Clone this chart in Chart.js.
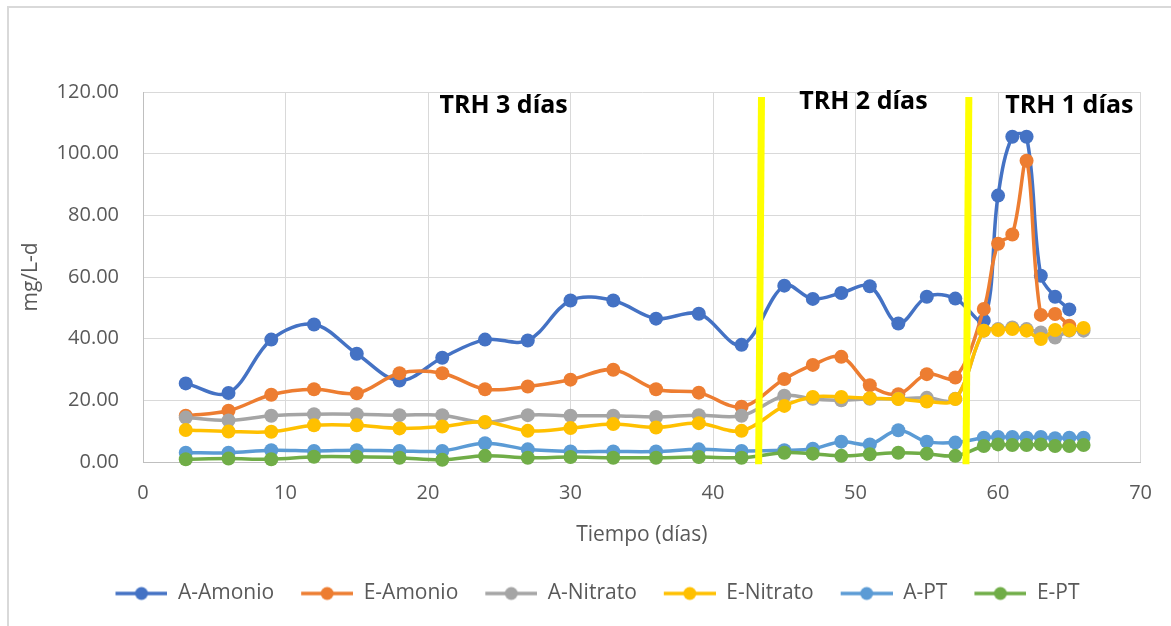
<!DOCTYPE html>
<html>
<head>
<meta charset="utf-8">
<script src="https://cdn.jsdelivr.net/npm/chart.js@4.4.0/dist/chart.umd.min.js"></script>
<style>
  html, body { margin: 0; padding: 0; background: #fff; overflow: hidden; }
  #frame { position: absolute; left: 7px; top: 6px; width: 1300px; height: 800px;
           border-left: 2px solid #d9d9d9; border-top: 2px solid #d9d9d9; }
  #wrap { position: absolute; left: 0; top: 0; width: 1171px; height: 626px; }
</style>
</head>
<body>
<div id="frame"></div>
<div id="wrap"><canvas id="chart"></canvas></div>
<script>
// sampling days
const days = [3, 6, 9, 12, 15, 18, 21, 24, 27, 30, 33, 36, 39, 42,
              45, 47, 49, 51, 53, 55, 57,
              59, 60, 61, 62, 63, 64, 65, 66];

const aAmonio = [25.5, 22.4, 39.7, 44.6, 35.1, 26.4, 33.8, 39.7, 39.4, 52.4, 52.4, 46.5, 48.1, 38.0,
                 57.2, 52.9, 54.8, 57.0, 44.9, 53.6, 53.0,
                 45.8, 86.4, 105.5, 105.5, 60.4, 53.6, 49.5];
const eAmonio = [15.0, 16.6, 21.8, 23.6, 22.3, 28.8, 28.8, 23.6, 24.5, 26.7, 29.9, 23.6, 22.5, 17.9,
                 26.9, 31.5, 34.1, 24.9, 22.0, 28.5, 27.4,
                 49.6, 70.8, 73.8, 97.7, 47.7, 48.0, 44.2];
const aNitrato = [14.4, 13.5, 15.0, 15.5, 15.5, 15.2, 15.2, 12.8, 15.2, 15.0, 15.0, 14.6, 15.2, 15.0,
                  21.5, 20.5, 20.0, 20.5, 20.5, 20.8, 20.5,
                  42.6, 43.1, 43.6, 43.1, 42.0, 40.4, 42.6, 42.6];
const eNitrato = [10.4, 9.9, 9.8, 11.9, 11.9, 10.9, 11.5, 13.0, 10.1, 11.0, 12.3, 11.2, 12.6, 10.1,
                  18.2, 21.1, 21.1, 20.7, 20.4, 19.6, 20.4,
                  42.6, 42.8, 43.1, 42.6, 39.9, 42.8, 42.8, 43.5];
const aPT = [3.0, 3.0, 3.8, 3.6, 3.8, 3.6, 3.6, 6.1, 4.1, 3.4, 3.4, 3.4, 4.1, 3.6,
             3.8, 4.3, 6.6, 5.7, 10.3, 6.6, 6.3,
             7.9, 8.1, 8.1, 7.9, 8.1, 7.7, 7.9, 7.9];
const ePT = [0.9, 1.1, 0.9, 1.7, 1.7, 1.4, 0.7, 2.0, 1.4, 1.6, 1.4, 1.4, 1.6, 1.4,
             3.0, 2.7, 2.0, 2.5, 3.0, 2.7, 2.0,
             5.2, 5.7, 5.5, 5.5, 5.7, 5.2, 5.2, 5.5];

const seriesNames = ['A-Amonio', 'E-Amonio', 'A-Nitrato', 'E-Nitrato', 'A-PT', 'E-PT'];
const seriesValues = [aAmonio, eAmonio, aNitrato, eNitrato, aPT, ePT];
const colors = ['#4472C4', '#ED7D31', '#A5A5A5', '#FFC000', '#5B9BD5', '#70AD47'];

// HRT change days and phase labels
const phaseBreaks = [43.3, 57.85];
const phaseLabels = ['TRH 3 días', 'TRH 2 días', 'TRH 1 días'];
const phaseLabelX = [20.8, 46.05, 60.5];
const phaseLabelY = [115.4, 116.7, 115.4];

const gray = '#595959';
const font = '"Open Sans", sans-serif';

// line + marker swatch, with some blank space on its left as item spacing
function legendIcon(color) {
    const c = document.createElement('canvas');
    c.width = 68; c.height = 16;
    const g = c.getContext('2d');
    g.strokeStyle = color; g.lineWidth = 3.5;
    g.beginPath(); g.moveTo(16, 8); g.lineTo(68, 8); g.stroke();
    g.fillStyle = color;
    g.beginPath(); g.arc(42, 8, 6.5, 0, Math.PI * 2); g.fill();
    return c;
}

const phasePlugin = {
    id: 'phases',
    afterLayout(chart) {
        // legend row sits a bit right of center in the original
        chart.legend.left += 18;
        chart.legend.right += 18;
    },
    afterDatasetsDraw(chart) {
        const { ctx, scales: { x, y } } = chart;
        ctx.save();
        ctx.strokeStyle = '#FFFF00';
        ctx.lineWidth = 7;
        phaseBreaks.forEach(b => {
            ctx.beginPath();
            ctx.moveTo(x.getPixelForValue(b + 0.1), y.getPixelForValue(118.4));
            ctx.lineTo(x.getPixelForValue(b - 0.1), y.getPixelForValue(-0.7));
            ctx.stroke();
        });
        ctx.fillStyle = '#000';
        ctx.font = 'bold 25px ' + font;
        ctx.textBaseline = 'middle';
        phaseLabels.forEach((t, i) => {
            ctx.fillText(t, x.getPixelForValue(phaseLabelX[i]), y.getPixelForValue(phaseLabelY[i]));
        });
        ctx.restore();
    }
};

const datasets = seriesNames.map((name, i) => ({
    label: name,
    data: seriesValues[i].map((v, k) => ({ x: days[k], y: v })),
    borderColor: colors[i],
    backgroundColor: colors[i],
    pointBackgroundColor: colors[i],
    pointBorderColor: colors[i],
    borderWidth: 3.5,
    pointRadius: 7,
    pointBorderWidth: 0,
    tension: 0.35,
    clip: false,
    order: seriesNames.length - i
}));

new Chart(document.getElementById('chart'), {
    type: 'line',
    data: { datasets },
    plugins: [phasePlugin],
    options: {
        responsive: true,
        maintainAspectRatio: false,
        animation: false,
        layout: { padding: { top: 92, right: 28, bottom: 12, left: 0 } },
        scales: {
            x: {
                type: 'linear', min: 0, max: 70,
                ticks: { stepSize: 10, color: gray, font: { family: font, size: 20 }, padding: 19 },
                grid: { color: '#d9d9d9', drawTicks: false },
                border: { color: '#bfbfbf' },
                title: { display: true, text: 'Tiempo (días)', color: gray,
                         font: { family: font, size: 21 }, padding: { top: 8, bottom: 24 } },
                afterFit(scale) { scale.height = 110; }
            },
            y: {
                min: 0, max: 120,
                ticks: { stepSize: 20, color: gray, font: { family: font, size: 20 }, padding: 24,
                         callback: v => v.toFixed(2) },
                grid: { color: '#d9d9d9', drawTicks: false },
                border: { color: '#bfbfbf' },
                title: { display: true, text: 'mg/L-d', color: gray,
                         font: { family: font, size: 21 }, padding: { top: 18 } },
                afterFit(scale) { scale.width = 143; }
            }
        },
        plugins: {
            tooltip: { enabled: false },
            legend: {
                position: 'bottom',
                labels: {
                    usePointStyle: true,
                    pointStyleWidth: 68,
                    padding: 11,
                    color: gray,
                    font: { family: font, size: 21 },
                    generateLabels: chart => chart.data.datasets.map((d, i) => ({
                        text: d.label,
                        pointStyle: legendIcon(d.borderColor),
                        fillStyle: d.borderColor,
                        strokeStyle: d.borderColor,
                        lineWidth: 0,
                        fontColor: gray,
                        datasetIndex: i
                    }))
                }
            }
        }
    }
});
</script>
</body>
</html>
